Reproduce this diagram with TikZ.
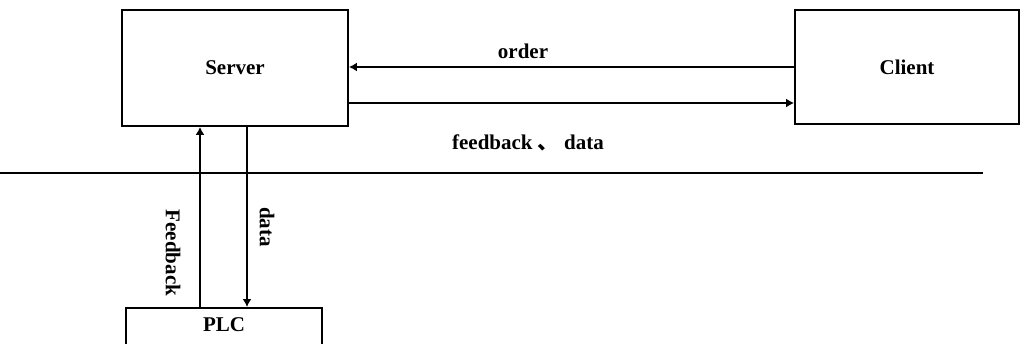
\documentclass[tikz,border=0pt]{standalone}
\usepackage{fontspec}
\setmainfont{Liberation Serif}
\newfontfamily\cjk{Noto Sans CJK SC}
\usetikzlibrary{arrows.meta}
\begin{document}
\begin{tikzpicture}[x=1pt,y=-1pt,
  line width=1.8pt,
  box/.style={draw, line width=1.8pt, inner sep=0pt},
  lbl/.style={font=\fontsize{21}{24}\selectfont\bfseries, inner sep=0pt},
  flow/.style={-{Latex[length=8pt,width=9pt]}}]
\useasboundingbox (0,0) rectangle (1022,343);
\clip (0,0) rectangle (1022,343);
% boxes
\node[box, minimum width=226pt, minimum height=116pt, lbl] (server) at (235,68) {Server};
\node[box, minimum width=224pt, minimum height=114pt, lbl] (client) at (907,67) {Client};
\node[box, lbl, anchor=north, minimum width=196pt, inner ysep=9pt,
      text height=15pt, text depth=45pt] (plc) at (224,307) {PLC};
% divider
\coordinate (dl) at (0,173);
\coordinate (dr) at (983,173);
\draw (dl) -- (dr);
% server <-> client
\draw[flow] (client.west) -- (client.west -| server.east);
\draw[flow] ([yshift=-35pt]server.east) -- ([yshift=-35pt]server.east -| client.west);
\node[lbl] (order) at (523,51) {order};
\node[lbl] (fd) at (528,143) {feedback {\cjk\bfseries 、} data};
% server <-> plc
\draw[flow] ([xshift=-35pt]server.south |- plc.north) -- ([xshift=-35pt]server.south);
\draw[flow] ([xshift=12pt]server.south) -- ([xshift=12pt]server.south |- plc.north);
\node[lbl, rotate=-90] (fb) at (173,253) {Feedback};
\node[lbl, rotate=-90] (dt) at (267,227) {data};
\end{tikzpicture}
\end{document}
